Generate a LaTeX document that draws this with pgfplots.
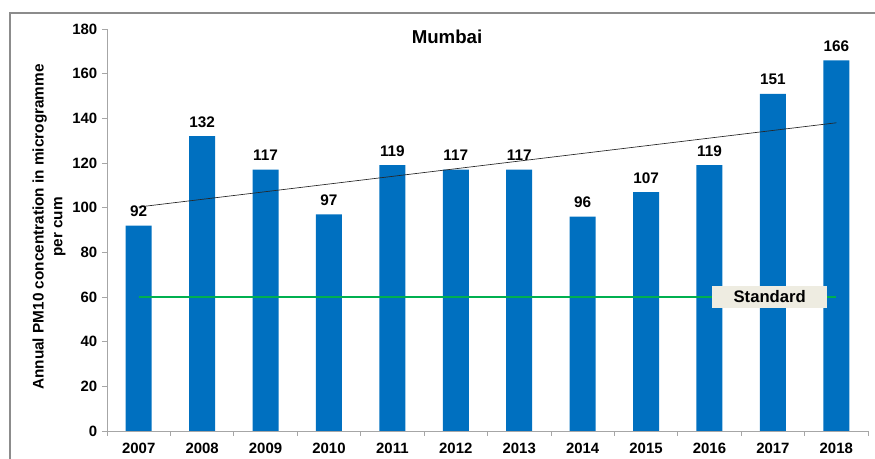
\documentclass[border=0pt]{standalone}
\usepackage{fontspec}
\setmainfont{Liberation Sans}
\usepackage{pgfplots}
\pgfplotsset{compat=1.18}
\definecolor{barblue}{HTML}{0070C0}
\definecolor{stdgreen}{HTML}{00B050}
\definecolor{boxfill}{HTML}{EEECE1}
\definecolor{axgray}{HTML}{A6A6A6}
\definecolor{framegray}{HTML}{8C8C8C}
\begin{document}
\begin{tikzpicture}
\clip (-80.25pt,-21pt) rectangle (576pt,323.25pt);
\draw[framegray, line width=1.1pt] (-72.75pt,-40pt) -- (-72.75pt,313.5pt) -- (600pt,313.5pt);
\begin{axis}[
  at={(0,0)}, anchor=south west,
  scale only axis, width=570.75pt, height=301.5pt,
  xmin=-0.5, xmax=11.5, ymin=0, ymax=180,
  axis x line*=bottom, axis y line*=left,
  axis line style={axgray, line width=0.6pt},
  tick align=outside,
  major tick length=3.75pt,
  tick style={axgray, line width=0.6pt},
  xtick={-0.5,0.5,...,11.5}, xticklabels={},
  extra x ticks={0,...,11},
  extra x tick labels={2007,2008,2009,2010,2011,2012,2013,2014,2015,2016,2017,2018},
  extra x tick style={tick style={draw=none}},
  ytick={0,20,...,180},
  ticklabel style={font=\fontsize{11.2}{13}\selectfont\bfseries, text=black},
  /pgf/number format/assume math mode=true,
  x tick label style={yshift=-2pt},
]
\addplot[ybar, bar width=19.5pt, fill=barblue, draw=none,
  nodes near coords,
  nodes near coords style={font=\fontsize{11.5}{13}\selectfont\bfseries, text=black, yshift=3pt}]
  coordinates {(0,92) (1,132) (2,117) (3,97) (4,119) (5,117) (6,117) (7,96) (8,107) (9,119) (10,151) (11,166)};
\addplot[black!85, line width=0.5pt, no markers] coordinates {(0,100.3) (11,138.0)};
\addplot[stdgreen, line width=2pt, no markers] coordinates {(0,60) (11,60)};
\node[fill=boxfill, font=\fontsize{12.5}{14}\selectfont\bfseries, minimum width=86pt, minimum height=17pt, inner sep=0pt] at (axis cs:9.95,60) {Standard};
\node[font=\fontsize{14}{16}\selectfont\bfseries, anchor=center] at (rel axis cs:0.4468,0.98) {Mumbai};
\end{axis}
\node[rotate=90, align=center, font=\fontsize{11.5}{14}\selectfont\bfseries] at (-43.5pt,153pt) {Annual PM10 concentration in microgramme\\per cum};
\end{tikzpicture}
\end{document}
